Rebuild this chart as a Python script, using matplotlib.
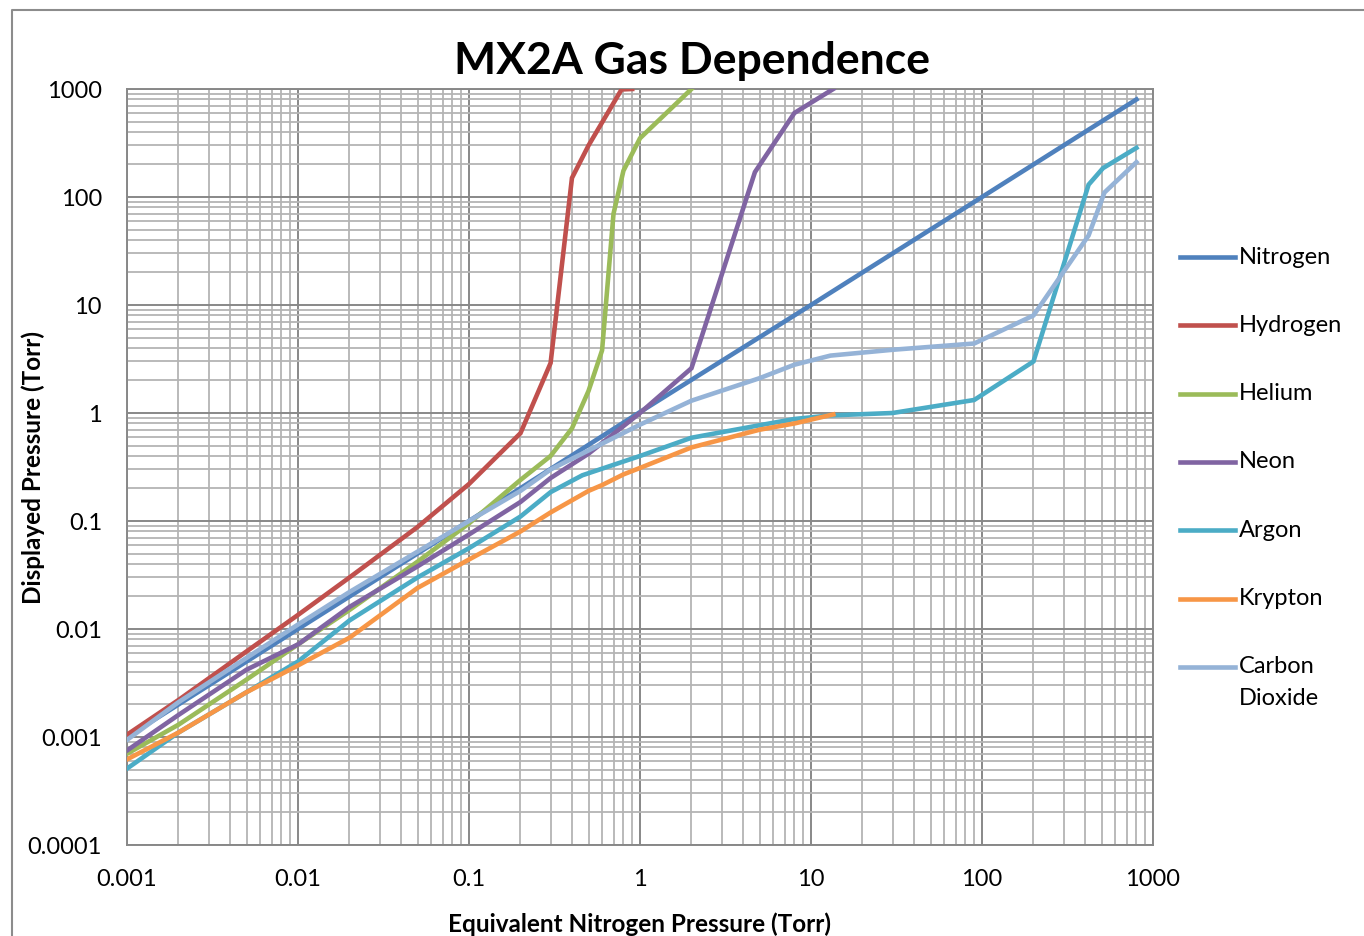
import matplotlib
matplotlib.use("Agg")
import matplotlib.pyplot as plt
from matplotlib.lines import Line2D
from matplotlib.ticker import FixedLocator, LogLocator, NullFormatter, FixedFormatter

plt.rcParams['font.family'] = ['Lato', 'DejaVu Sans']

# ---------------- data ----------------
nitrogen_x = [0.001, 0.01, 0.1, 1, 10, 100, 800]
nitrogen_y = [0.001, 0.01, 0.1, 1.02, 10, 100, 800]

hydrogen_x = [0.001, 0.002, 0.005, 0.01, 0.02, 0.05, 0.1, 0.2, 0.3, 0.4, 0.5, 0.78, 0.9]
hydrogen_y = [0.00105, 0.0022, 0.0062, 0.0135, 0.03, 0.088, 0.22, 0.65, 2.9, 150, 300, 990, 1000]

helium_x = [0.001, 0.002, 0.005, 0.01, 0.02, 0.05, 0.1, 0.2, 0.3, 0.4, 0.5, 0.6, 0.7, 0.8, 1, 2]
helium_y = [0.0007, 0.0013, 0.0034, 0.0072, 0.015, 0.042, 0.095, 0.24, 0.4, 0.72, 1.6, 3.8, 70, 175, 350, 1000]

neon_x = [0.001, 0.002, 0.005, 0.01, 0.02, 0.05, 0.1, 0.2, 0.3, 0.5, 1, 2, 4.7, 8, 13.5]
neon_y = [0.00075, 0.0016, 0.0042, 0.0072, 0.016, 0.038, 0.075, 0.15, 0.25, 0.42, 1.0, 2.6, 170, 600, 1000]

argon_x = [0.001, 0.002, 0.005, 0.01, 0.02, 0.05, 0.1, 0.2, 0.3, 0.46, 1, 2, 5, 8, 13, 30, 90, 200, 420, 510, 800]
argon_y = [0.00051, 0.0011, 0.0026, 0.005, 0.012, 0.03, 0.056, 0.11, 0.185, 0.265, 0.4, 0.59, 0.77, 0.88, 0.95, 1.0, 1.32, 3.0, 130, 185, 285]

krypton_x = [0.001, 0.002, 0.005, 0.01, 0.02, 0.05, 0.1, 0.2, 0.3, 0.5, 0.6, 0.8, 1, 2, 5, 8, 13.5]
krypton_y = [0.00062, 0.0011, 0.0026, 0.0046, 0.0083, 0.024, 0.044, 0.08, 0.12, 0.19, 0.215, 0.27, 0.31, 0.48, 0.7, 0.8, 0.97]

co2_x = [0.001, 0.002, 0.005, 0.01, 0.02, 0.05, 0.1, 0.2, 0.3, 0.5, 1, 2, 5, 8, 13, 30, 90, 200, 420, 520, 800]
co2_y = [0.00094, 0.0021, 0.0054, 0.011, 0.022, 0.052, 0.1, 0.19, 0.3, 0.45, 0.78, 1.3, 2.1, 2.8, 3.4, 3.85, 4.4, 8, 44, 110, 210]

series_names = ["Nitrogen", "Hydrogen", "Helium", "Neon", "Argon", "Krypton", "Carbon Dioxide"]
series_x = [nitrogen_x, hydrogen_x, helium_x, neon_x, argon_x, krypton_x, co2_x]
series_y = [nitrogen_y, hydrogen_y, helium_y, neon_y, argon_y, krypton_y, co2_y]
series_colors = ["#4F81BD", "#C0504D", "#9BBB59", "#8064A2", "#4BACC6", "#F79646", "#95B3D7"]

x_ticks = [0.001, 0.01, 0.1, 1, 10, 100, 1000]
x_labels = ["0.001", "0.01", "0.1", "1", "10", "100", "1000"]
y_ticks = [0.0001, 0.001, 0.01, 0.1, 1, 10, 100, 1000]
y_labels = ["0.0001", "0.001", "0.01", "0.1", "1", "10", "100", "1000"]

title = "MX2A Gas Dependence"
xlabel = "Equivalent Nitrogen Pressure (Torr)"
ylabel = "Displayed Pressure (Torr)"

# ---------------- figure ----------------
W, H = 1364, 936
fig = plt.figure(figsize=(W / 100, H / 100), dpi=100)
L, R, T, B = 127, 1153, 89, 845
ax = fig.add_axes([L / W, 1 - B / H, (R - L) / W, (B - T) / H])

for x, y, c, n in zip(series_x, series_y, series_colors, series_names):
    ax.plot(x, y, color=c, lw=3.3, solid_joinstyle='miter', label=n, zorder=3)

ax.set_xscale('log')
ax.set_yscale('log')
ax.set_xlim(0.001, 1000)
ax.set_ylim(0.0001, 1000)

ax.xaxis.set_major_locator(FixedLocator(x_ticks))
ax.xaxis.set_major_formatter(FixedFormatter(x_labels))
ax.yaxis.set_major_locator(FixedLocator(y_ticks))
ax.yaxis.set_major_formatter(FixedFormatter(y_labels))
ax.xaxis.set_minor_locator(LogLocator(base=10, subs=range(2, 10), numticks=50))
ax.yaxis.set_minor_locator(LogLocator(base=10, subs=range(2, 10), numticks=50))
ax.xaxis.set_minor_formatter(NullFormatter())
ax.yaxis.set_minor_formatter(NullFormatter())

ax.grid(which='major', color='#888888', lw=1.4, zorder=1)
ax.grid(which='minor', color='#b4b4b4', lw=1.3, zorder=1)
ax.set_axisbelow(True)
for s in ax.spines.values():
    s.set_color('#888888')
    s.set_linewidth(1.4)
ax.tick_params(which='both', length=0, labelsize=17, colors='black')
ax.tick_params(axis='x', pad=17)
ax.tick_params(axis='y', pad=18)

fig.text(692 / W, 1 - 61 / H, title, ha='center', va='center', fontsize=32, fontweight='bold')
fig.text(33 / W, 1 - 467 / H, ylabel, rotation=90, ha='center', va='center', fontsize=17.5, fontweight='bold')
fig.text(640 / W, 1 - 924 / H, xlabel, ha='center', va='center', fontsize=17.5, fontweight='bold')

# outer chart border (top and left visible)
fig.add_artist(Line2D([12 / W, 12 / W, 1.0], [0.0, 1 - 10 / H, 1 - 10 / H], color='#8c8c8c', lw=1.5,
                      transform=fig.transFigure))

# legend
leg_y0, leg_dy = 257, 68.3
for i, (n, c) in enumerate(zip(series_names, series_colors)):
    yy = leg_y0 + i * leg_dy
    fig.add_artist(Line2D([1180 / W, 1235 / W], [1 - yy / H, 1 - yy / H], color=c, lw=3.3,
                          transform=fig.transFigure))
    words = n.split(" ")
    for k, w in enumerate(words):
        fig.text(1239 / W, 1 - (yy + k * 32) / H, w, ha='left', va='center', fontsize=17)

fig.savefig("out.png", dpi=100)
